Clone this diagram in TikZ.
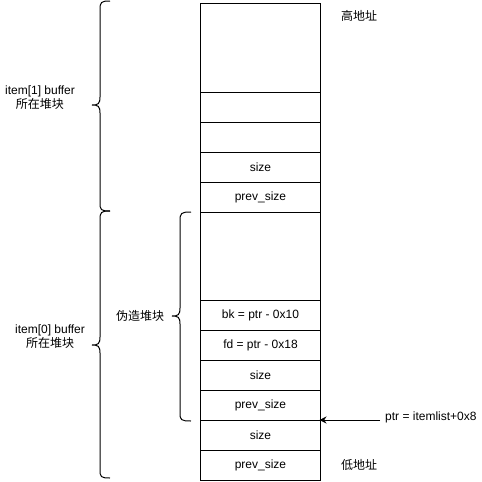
\documentclass[tikz,border=0pt]{standalone}
\usepackage{fontspec}
\setmainfont{Liberation Sans}
\newfontfamily\cjk{Noto Sans CJK SC}
\usetikzlibrary{arrows.meta}
\begin{document}
\begin{tikzpicture}[x=1pt,y=-1pt,
  cell/.style={draw, line width=1pt, minimum width=120pt, inner sep=0pt, anchor=north west, font=\fontsize{12}{14}\selectfont},
  lbl/.style={align=center, inner sep=0pt, font=\fontsize{12}{14}\selectfont},
  brace/.style={draw, line width=1pt},
  ptrarrow/.style={line width=1pt, -{Stealth[length=7pt,width=7pt]}, shorten >=-1.5pt}]
\useasboundingbox (0,0) rectangle (482,482);
% top chunk
\node[cell, minimum height=89.5pt] (c1) at (200,2.5) {};
\node[cell, minimum height=30pt] (c2) at (200,92) {};
\node[cell, minimum height=30pt] (c3) at (200,122) {};
\node[cell, minimum height=30pt] (c4) at (200,152) {size};
\node[cell, minimum height=30pt] (c5) at (200,182) {prev\_size};
% bottom chunk
\node[cell, minimum height=88pt] (c6) at (200,212) {};
\node[cell, minimum height=30pt] (c7) at (200,300) {bk = ptr - 0x10};
\node[cell, minimum height=30pt] (c8) at (200,330) {fd = ptr - 0x18};
\node[cell, minimum height=30pt] (c9) at (200,360) {size};
\node[cell, minimum height=30pt] (c10) at (200,390) {prev\_size};
\node[cell, minimum height=30pt] (c11) at (200,420) {size};
\node[cell, minimum height=30pt] (c12) at (200,450) {prev\_size};
% braces
\draw[brace] (110,1) .. controls (101,1) and (100,2) .. (100,10) -- (100,97)
  .. controls (100,104) and (98,105) .. (92,105)
  .. controls (98,105) and (100,106) .. (100,113) -- (100,203)
  .. controls (100,210) and (101,211) .. (110,211);
\draw[brace] (110,211) .. controls (101,211) and (100,212) .. (100,220) -- (100,337)
  .. controls (100,344) and (98,345) .. (92,345)
  .. controls (98,345) and (100,346) .. (100,353) -- (100,470)
  .. controls (100,477) and (101,478) .. (110,478);
\draw[brace] (191,212) .. controls (181,212) and (180,213) .. (180,221) -- (180,308)
  .. controls (180,315) and (178,316) .. (172,316)
  .. controls (178,316) and (180,317) .. (180,324) -- (180,413)
  .. controls (180,420) and (181,421) .. (191,421);
% labels
\node[lbl] (l1) at (40,98) {item[1] buffer\\{\cjk 所在堆块}};
\node[lbl] (l0) at (50,336.5) {item[0] buffer\\{\cjk 所在堆块}};
\node[lbl] (lf) at (140,316) {\cjk 伪造堆块};
\node[lbl] (hi) at (359,16) {\cjk 高地址};
\node[lbl] (lo) at (359,465) {\cjk 低地址};
\node[lbl, anchor=west] (ptr) at (385,417) {ptr = itemlist+0x8};
\coordinate (ptrsrc) at (380,420);
\draw[ptrarrow] (ptrsrc) -- (c11.north east);
\end{tikzpicture}
\end{document}
